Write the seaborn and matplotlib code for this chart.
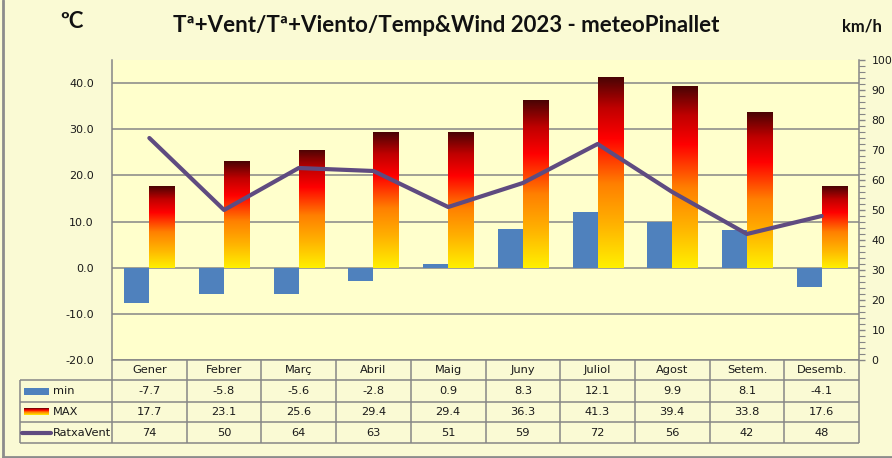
import numpy as np
import pandas as pd
import matplotlib
matplotlib.use("Agg")
import matplotlib.pyplot as plt
import seaborn as sns
from matplotlib.colors import LinearSegmentedColormap
from matplotlib.ticker import MultipleLocator, FormatStrFormatter

# ---------------- data ----------------
months = ["Gener", "Febrer", "Març", "Abril", "Maig", "Juny", "Juliol", "Agost", "Setem.", "Desemb."]
t_min = [-7.7, -5.8, -5.6, -2.8, 0.9, 8.3, 12.1, 9.9, 8.1, -4.1]
t_max = [17.7, 23.1, 25.6, 29.4, 29.4, 36.3, 41.3, 39.4, 33.8, 17.6]
wind = [74, 50, 64, 63, 51, 59, 72, 56, 42, 48]
series_names = ["min", "MAX", "RatxaVent"]
title = "Tª+Vent/Tª+Viento/Temp&Wind 2023 - meteoPinallet"

# ---------------- style ----------------
sns.set_theme(style="white")
plt.rcParams["font.family"] = ["DejaVu Sans"]

W, H = 892, 458
fig = plt.figure(figsize=(W / 100, H / 100), dpi=100)
OUTER_BG = "#FAFAD4"
PLOT_BG = "#FFFFCC"
GRID = "#868686"
BLUE = "#4F81BD"
PURPLE = "#5F4B80"
TXT = "#1A1A1A"
fig.patch.set_facecolor(OUTER_BG)

grad = LinearSegmentedColormap.from_list(
    "heat", [(0.0, "#FFF000"), (0.22, "#FFB400"), (0.44, "#FF8000"), (0.68, "#FF0000"),
             (0.84, "#C00000"), (1.0, "#4A0404")])

# plot area in pixels
PX0, PX1, PY0, PY1 = 112, 859, 60, 360


def fx(x):
    return x / W


def fy(y):
    return 1 - y / H


ax = fig.add_axes([fx(PX0), fy(PY1), fx(PX1) - fx(PX0), (PY1 - PY0) / H])
ax.set_facecolor(PLOT_BG)

df = pd.DataFrame({
    "mes": months * 2,
    "serie": ["min"] * len(months) + ["MAX"] * len(months),
    "val": t_min + t_max,
})
sns.barplot(data=df, x="mes", y="val", hue="serie", hue_order=["min", "MAX"],
            palette={"min": BLUE, "MAX": "#FF8A00"}, width=0.67, saturation=1,
            errorbar=None, legend=False, ax=ax, zorder=3, linewidth=0)

ax.set_ylim(-20, 45)
ax.set_xlim(-0.5, len(months) - 0.5)
ax.set_yticks(np.arange(-20, 41, 10))
ax.yaxis.set_major_formatter(FormatStrFormatter("%.1f"))
ax.grid(axis="y", color=GRID, lw=1.1, zorder=0)
ax.set_axisbelow(True)
ax.set_xlabel("")
ax.set_ylabel("")
ax.set_xticks([])
ax.tick_params(axis="y", length=0, pad=13, labelsize=8, labelcolor=TXT)
for s in ["top", "right", "bottom"]:
    ax.spines[s].set_visible(False)
ax.spines["left"].set_color(GRID)
ax.spines["left"].set_linewidth(1.1)

# gradient fill on MAX bars
gimg = np.linspace(0, 1, 256).reshape(-1, 1)
for bar in ax.containers[1]:
    x0, y0 = bar.get_x(), bar.get_y()
    w, h = bar.get_width(), bar.get_height()
    bar.set_facecolor("none")
    im = ax.imshow(gimg, cmap=grad, origin="lower", aspect="auto",
                   extent=[x0, x0 + w, y0, y0 + h], zorder=3.5, interpolation="bilinear")
    im.set_clip_path(bar)
ax.set_xlim(-0.5, len(months) - 0.5)
ax.set_ylim(-20, 45)

# wind line on right axis
ax2 = ax.twinx()
sns.lineplot(x=np.arange(len(months)), y=wind, ax=ax2, color=PURPLE, lw=3.0, zorder=5)
ax2.set_ylim(0, 100)
ax2.yaxis.set_major_locator(MultipleLocator(10))
ax2.yaxis.set_minor_locator(MultipleLocator(2))
ax2.tick_params(axis="y", which="major", length=4, width=1, color=GRID, pad=5, labelsize=7.8, labelcolor=TXT, direction="out")
ax2.tick_params(axis="y", which="minor", length=4, width=0.8, color=GRID, direction="out")
for s in ["top", "left", "bottom"]:
    ax2.spines[s].set_visible(False)
ax2.spines["right"].set_color(GRID)
ax2.spines["right"].set_linewidth(1.1)
ax2.set_ylabel("")
ax2.grid(False)

# ---------------- overlay (titles, data table, frame) ----------------
ov = fig.add_axes([0, 0, 1, 1])
ov.set_xlim(0, W)
ov.set_ylim(H, 0)
ov.axis("off")
ov.patch.set_visible(False)

TITLE_FONT = ["Lato", "DejaVu Sans"]
ov.text(446, 25, title, ha="center", va="center", fontsize=16, fontweight="bold",
        family=TITLE_FONT, color="#111111")
ov.text(72, 22, "ºC", ha="center", va="center", fontsize=16, fontweight="bold",
        family=TITLE_FONT, color="#111111")
ov.text(862, 26, "km/h", ha="center", va="center", fontsize=12, fontweight="bold",
        family=TITLE_FONT, color="#111111")

# frame of the chart
ov.plot([2.5, 2.5], [0, 456.5], color="#8C8C8C", lw=2)
ov.plot([2.5, W], [456.5, 456.5], color="#8C8C8C", lw=2)

# table geometry
rows_y = [360, 380, 402, 422, 443]
LEFT = 20
n = len(months)
colw = (PX1 - PX0) / n
tab_kw = dict(color=GRID, lw=1.1, solid_capstyle="butt")
ov.plot([PX0, PX1], [rows_y[0], rows_y[0]], **tab_kw)
for y in rows_y[1:]:
    ov.plot([LEFT, PX1], [y, y], **tab_kw)
ov.plot([LEFT, LEFT], [rows_y[1], rows_y[-1]], **tab_kw)
for i in range(n + 1):
    x = PX0 + i * colw
    ov.plot([x, x], [rows_y[0], rows_y[-1]], **tab_kw)

fs = 8.2
for i, m in enumerate(months):
    cx = PX0 + (i + 0.5) * colw
    ov.text(cx, (rows_y[0] + rows_y[1]) / 2, m, ha="center", va="center", fontsize=fs, color=TXT)
    ov.text(cx, (rows_y[1] + rows_y[2]) / 2, f"{t_min[i]:.1f}", ha="center", va="center", fontsize=fs, color=TXT)
    ov.text(cx, (rows_y[2] + rows_y[3]) / 2, f"{t_max[i]:.1f}", ha="center", va="center", fontsize=fs, color=TXT)
    ov.text(cx, (rows_y[3] + rows_y[4]) / 2, f"{wind[i]:d}", ha="center", va="center", fontsize=fs, color=TXT)

# legend keys inside the table
ym = [(rows_y[k] + rows_y[k + 1]) / 2 for k in range(1, 4)]
ov.add_patch(plt.Rectangle((24, ym[0] - 3.5), 25, 7, color=BLUE, lw=0))
ov.imshow(gimg[::-1], cmap=grad, aspect="auto", extent=[24, 49, ym[1] + 3.5, ym[1] - 3.5], interpolation="bilinear")
ov.plot([22, 51], [ym[2], ym[2]], color=PURPLE, lw=3.0, solid_capstyle="round")
ov.set_xlim(0, W)
ov.set_ylim(H, 0)
for k, name in enumerate(series_names):
    ov.text(53, ym[k], name, ha="left", va="center", fontsize=fs, color=TXT)

fig.savefig("out.png", dpi=100, facecolor=fig.get_facecolor())
